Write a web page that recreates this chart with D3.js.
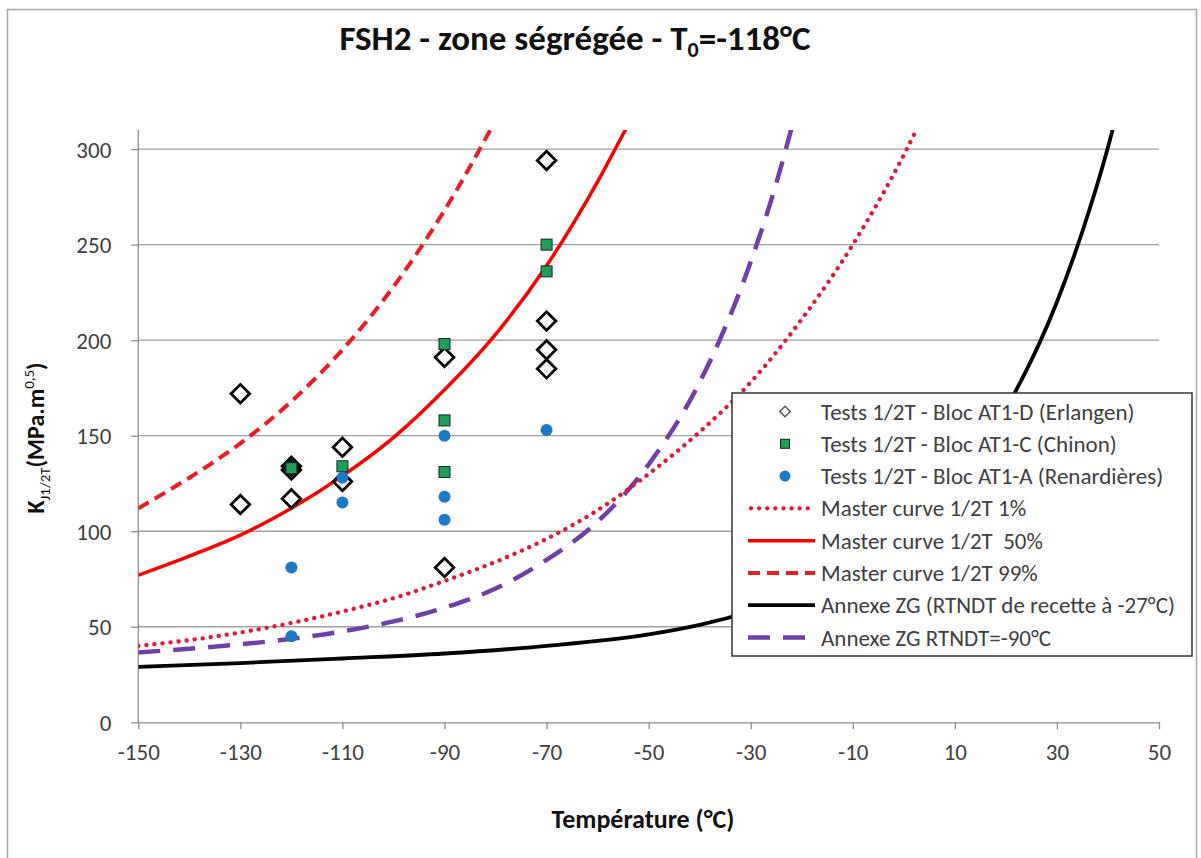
<!DOCTYPE html>
<html>
<head>
<meta charset="utf-8">
<script src="https://cdn.jsdelivr.net/npm/d3@7"></script>
<style>
  body { margin: 0; background: #fff; }
  svg text { font-family: Carlito, "Liberation Sans Narrow", "Open Sans", sans-serif; }
</style>
</head>
<body>
<svg id="chart" width="1201" height="858"></svg>
<script>
// temperatures (°C) for the curves
var tempsMC50 = [-150, -140, -130, -120, -110, -100, -90, -80, -70, -60, -54];
var mc50 = [77, 87, 98, 112, 129, 149, 174, 203, 239, 283, 313];

var tempsMC99 = [-150, -140, -130, -120, -110, -100, -90, -80];
var mc99 = [112, 128, 146, 168, 195, 228, 268, 315];

var tempsMC1 = [-150, -140, -130, -120, -110, -100, -90, -80, -70, -60, -50, -40, -30, -20, -10, 0, 3];
var mc1 = [40, 43, 47, 52, 58, 65, 74, 84, 96, 111, 130, 152, 178, 211, 250, 297, 313];

var tempsZG27 = [-150, -130, -110, -90, -70, -50, -40, -30, -20, -10, 0, 10, 20, 30, 35, 40, 41];
var zg27 = [29, 31, 33.4, 36, 40, 46, 51, 58, 67, 80, 98, 125, 164, 220, 257, 301, 311];

var tempsZG90 = [-150, -140, -130, -120, -110, -100, -90, -80, -70, -60, -50, -40, -30, -25, -22];
var zg90 = [36.6, 38.5, 40.8, 43.7, 47.6, 52.8, 60, 70, 85, 105, 135, 178, 241, 282, 311];

// test results
var erlT = [-130, -130, -120, -120, -120, -110, -110, -90, -90, -70, -70, -70, -70];
var erlK = [172, 114, 134, 132, 117, 144, 126, 191, 81, 294, 210, 195, 185];

var chiT = [-120, -110, -90, -90, -90, -70, -70];
var chiK = [133, 134, 198, 158, 131, 250, 236];

var renT = [-120, -120, -110, -110, -90, -90, -90, -70];
var renK = [81, 45, 128, 115, 150, 118, 106, 153];

var xTicks = [-150, -130, -110, -90, -70, -50, -30, -10, 10, 30, 50];
var yTicks = [0, 50, 100, 150, 200, 250, 300];

var legendLabels = [
  "Tests 1/2T - Bloc AT1-D (Erlangen)",
  "Tests 1/2T - Bloc AT1-C (Chinon)",
  "Tests 1/2T - Bloc AT1-A (Renardières)",
  "Master curve 1/2T 1%",
  "Master curve 1/2T  50%",
  "Master curve 1/2T 99%",
  "Annexe ZG (RTNDT de recette à -27°C)",
  "Annexe ZG RTNDT=-90°C"
];

var svg = d3.select("#chart");
var plotLeft = 138.3, plotRight = 1159, plotTop = 130, plotBottom = 722.3;

var x = d3.scaleLinear().domain([-150, 50]).range([plotLeft, plotRight]);
var y = d3.scaleLinear().domain([0, 310]).range([plotBottom, plotTop]);

// outer frame
svg.append("rect")
  .attr("x", 7.5).attr("y", 9.5).attr("width", 1189).attr("height", 870)
  .attr("fill", "none").attr("stroke", "#a6a6a6").attr("stroke-width", 1.5);

// title
var title = svg.append("text")
  .attr("x", 575).attr("y", 50)
  .attr("text-anchor", "middle")
  .attr("font-size", 35).attr("font-weight", "bold").attr("fill", "#111");
title.append("tspan").text("FSH2 - zone ségrégée - T");
title.append("tspan").attr("font-size", 22).attr("dy", 7).text("0");
title.append("tspan").attr("dy", -7).text("=-118°C");

// gridlines
svg.append("g").selectAll("line").data(yTicks.filter(function(d) { return d > 0; }))
  .join("line")
  .attr("x1", plotLeft).attr("x2", plotRight)
  .attr("y1", function(d) { return y(d); }).attr("y2", function(d) { return y(d); })
  .attr("stroke", "#a0a0a0").attr("stroke-width", 1.3);

// axes
var fmt = function(d) { return String(d); };
var xAxis = svg.append("g")
  .attr("transform", "translate(0," + plotBottom + ")")
  .call(d3.axisBottom(x).tickValues(xTicks).tickFormat(fmt).tickSize(7).tickPadding(14).tickSizeOuter(0));
var yAxis = svg.append("g")
  .attr("transform", "translate(" + plotLeft + ",0)")
  .call(d3.axisLeft(y).tickValues(yTicks).tickFormat(fmt).tickSize(7).tickPadding(20).tickSizeOuter(0));

[xAxis, yAxis].forEach(function(a) {
  a.select(".domain").attr("stroke", "#8c8c8c").attr("stroke-width", 1.3);
  a.selectAll(".tick line").attr("stroke", "#8c8c8c").attr("stroke-width", 1.3);
  a.selectAll(".tick text").attr("font-size", 23).attr("fill", "#404040")
    .style("font-family", "Carlito, 'Liberation Sans Narrow', 'Open Sans', sans-serif");
});
yAxis.selectAll(".tick text").attr("dy", "0.35em");
yAxis.select(".domain").attr("d", "M0," + plotTop + "V" + plotBottom);

// axis titles
svg.append("text")
  .attr("x", 643).attr("y", 828)
  .attr("text-anchor", "middle")
  .attr("font-size", 26).attr("font-weight", "bold").attr("fill", "#111")
  .text("Température (°C)");

var yl = svg.append("text")
  .attr("transform", "translate(44,438) rotate(-90)")
  .attr("text-anchor", "middle")
  .attr("font-size", 24).attr("font-weight", "bold").attr("fill", "#111");
yl.append("tspan").text("K");
yl.append("tspan").attr("font-size", 15).attr("dy", 6).attr("font-weight", "normal").text("J1/2T");
yl.append("tspan").attr("dy", -6).text("(MPa.m");
yl.append("tspan").attr("font-size", 15).attr("dy", -10).attr("font-weight", "normal").text("0,5");
yl.append("tspan").attr("dy", 10).text(")");

// clipped curves
svg.append("defs").append("clipPath").attr("id", "plotclip")
  .append("rect").attr("x", plotLeft).attr("y", plotTop)
  .attr("width", plotRight - plotLeft).attr("height", plotBottom - plotTop);

var curves = svg.append("g").attr("clip-path", "url(#plotclip)");

function drawCurve(temps, vals, color, width, dash, cap) {
  var line = d3.line()
    .x(function(d, i) { return x(temps[i]); })
    .y(function(d) { return y(d); })
    .curve(d3.curveMonotoneX);
  curves.append("path")
    .datum(vals)
    .attr("d", line)
    .attr("fill", "none")
    .attr("stroke", color)
    .attr("stroke-width", width)
    .attr("stroke-dasharray", dash)
    .attr("stroke-linecap", cap || "butt");
}

var series = [
  { t: tempsZG27, v: zg27, color: "#000000", w: 3.8, dash: null, cap: "butt" },
  { t: tempsZG90, v: zg90, color: "#7040a8", w: 4.5, dash: "22,13", cap: "butt" },
  { t: tempsMC1, v: mc1, color: "#e3183a", w: 4.3, dash: "0.1,8", cap: "round" },
  { t: tempsMC50, v: mc50, color: "#ff0000", w: 3.5, dash: null, cap: "butt" },
  { t: tempsMC99, v: mc99, color: "#ee1c24", w: 4, dash: "12,7", cap: "butt" }
];
series.forEach(function(s) { drawCurve(s.t, s.v, s.color, s.w, s.dash, s.cap); });

// markers
var diamond = d3.symbol().type(d3.symbolDiamond2).size(220);

svg.append("g").selectAll("path").data(erlK)
  .join("path")
  .attr("transform", function(d, i) { return "translate(" + x(erlT[i]) + "," + y(d) + ")"; })
  .attr("d", diamond)
  .attr("fill", "none").attr("stroke", "#000").attr("stroke-width", 2.8);

svg.append("g").selectAll("rect").data(chiK)
  .join("rect")
  .attr("x", function(d, i) { return x(chiT[i]) - 5.5; })
  .attr("y", function(d) { return y(d) - 5.5; })
  .attr("width", 11).attr("height", 11)
  .attr("fill", "#1fa055").attr("stroke", "#123").attr("stroke-width", 1);

svg.append("g").selectAll("circle").data(renK)
  .join("circle")
  .attr("cx", function(d, i) { return x(renT[i]); })
  .attr("cy", function(d) { return y(d); })
  .attr("r", 6)
  .attr("fill", "#1b79c6");

// legend
var lg = svg.append("g");
lg.append("rect")
  .attr("x", 732).attr("y", 393).attr("width", 460).attr("height", 263)
  .attr("fill", "#fff").attr("stroke", "#333").attr("stroke-width", 1.5);

var rowY = d3.scaleLinear().domain([0, 7]).range([411.5, 637.5]);

lg.selectAll("text").data(legendLabels)
  .join("text")
  .attr("x", 821).attr("y", function(d, i) { return rowY(i); })
  .attr("dy", "0.35em")
  .attr("font-size", 23).attr("fill", "#404040")
  .style("white-space", "pre")
  .text(function(d) { return d; });

lg.append("path")
  .attr("transform", "translate(785," + rowY(0) + ")")
  .attr("d", d3.symbol().type(d3.symbolDiamond2).size(70))
  .attr("fill", "none").attr("stroke", "#555").attr("stroke-width", 1.5);
lg.append("rect")
  .attr("x", 780.5).attr("y", rowY(1) - 4.5).attr("width", 9).attr("height", 9)
  .attr("fill", "#1fa055").attr("stroke", "#123").attr("stroke-width", 1);
lg.append("circle")
  .attr("cx", 785).attr("cy", rowY(2)).attr("r", 5.5).attr("fill", "#1b79c6");

var legendLines = [
  { row: 3, s: series[2] },
  { row: 4, s: series[3] },
  { row: 5, s: series[4] },
  { row: 6, s: series[0] },
  { row: 7, s: series[1] }
];
legendLines.forEach(function(l) {
  lg.append("line")
    .attr("x1", l.s.cap === "round" ? 751 : 748).attr("x2", 815)
    .attr("y1", rowY(l.row)).attr("y2", rowY(l.row))
    .attr("stroke", l.s.color)
    .attr("stroke-width", l.s.w)
    .attr("stroke-dasharray", l.s.dash)
    .attr("stroke-linecap", l.s.cap);
});
</script>
</body>
</html>
